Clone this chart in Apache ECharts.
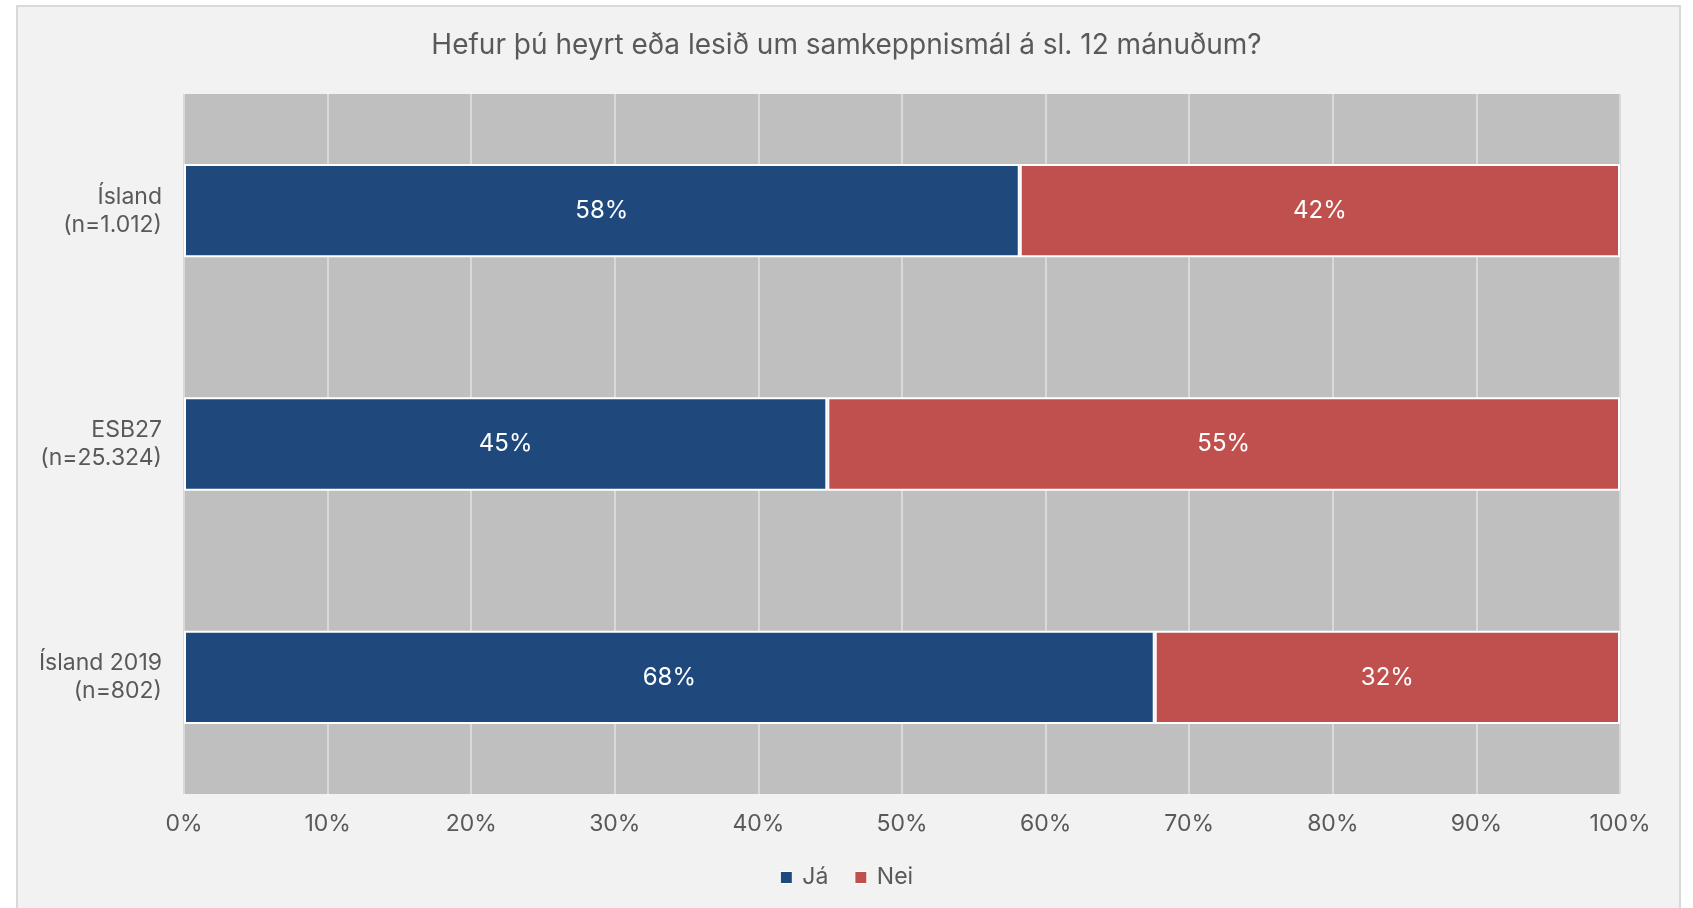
<!DOCTYPE html>
<html>
<head>
<meta charset="utf-8">
<script src="https://cdn.jsdelivr.net/npm/echarts@6/dist/echarts.min.js"></script>
<style>
html, body { margin: 0; padding: 0; background: #fff; }
#main { width: 1693px; height: 908px; }
</style>
</head>
<body>
<div id="main"></div>
<script>
var categories = ['Ísland\n(n=1.012)', 'ESB27\n(n=25.324)', 'Ísland 2019\n(n=802)'];
var jaValues = [58.2, 44.8, 67.6];
var neiValues = [41.8, 55.2, 32.4];
var xTicks = [0, 10, 20, 30, 40, 50, 60, 70, 80, 90, 100];

var textFont = 'Inter, "Noto Sans", sans-serif';
var chart = echarts.init(document.getElementById('main'));

var barLabel = {
    show: true,
    position: 'inside',
    color: '#ffffff',
    fontSize: 24,
    fontFamily: textFont,
    formatter: function (p) { return Math.round(p.value) + '%'; }
};

var option = {
    backgroundColor: '#ffffff',
    textStyle: { fontFamily: textFont },
    graphic: [{
        type: 'rect',
        z: -10,
        shape: { x: 17, y: 6, width: 1663, height: 912 },
        style: { fill: '#f2f2f2', stroke: '#d9d9d9', lineWidth: 2 }
    }],
    title: {
        text: 'Hefur þú heyrt eða lesið um samkeppnismál á sl. 12 mánuðum?',
        left: 'center',
        top: 27,
        textStyle: { color: '#595959', fontSize: 28, fontWeight: 'normal', fontFamily: textFont }
    },
    legend: {
        bottom: 14,
        left: 'center',
        icon: 'rect',
        itemWidth: 12,
        itemHeight: 12,
        itemGap: 26,
        itemStyle: { borderColor: '#ffffff', borderWidth: 1 },
        textStyle: { color: '#595959', fontSize: 23, fontFamily: textFont, padding: [0, 0, 0, 5] },
        data: ['Já', 'Nei']
    },
    grid: {
        left: 184,
        right: 73,
        top: 94,
        bottom: 114,
        show: true,
        backgroundColor: '#bfbfbf',
        borderWidth: 0,
        containLabel: false
    },
    xAxis: {
        type: 'value',
        min: 0,
        max: 100,
        interval: 10,
        axisLine: { show: false },
        axisTick: { show: false },
        axisLabel: {
            color: '#595959',
            fontSize: 23,
            fontFamily: textFont,
            margin: 19,
            formatter: function (v) { return xTicks.indexOf(v) >= 0 ? v + '%' : ''; }
        },
        splitLine: { show: true, lineStyle: { color: '#d9d9d9', width: 2 } }
    },
    yAxis: {
        type: 'category',
        inverse: true,
        data: categories,
        axisLine: { show: false },
        axisTick: { show: false },
        axisLabel: {
            color: '#595959',
            fontSize: 23,
            fontFamily: textFont,
            margin: 22,
            lineHeight: 28,
            align: 'right'
        }
    },
    series: [
        {
            name: 'Já',
            type: 'bar',
            stack: 'total',
            barWidth: '40%',
            data: jaValues,
            itemStyle: { color: '#1f497d', borderColor: '#ffffff', borderWidth: 2 },
            label: barLabel
        },
        {
            name: 'Nei',
            type: 'bar',
            stack: 'total',
            barWidth: '40%',
            data: neiValues,
            itemStyle: { color: '#c0504d', borderColor: '#ffffff', borderWidth: 2 },
            label: barLabel
        }
    ]
};
chart.setOption(option);
</script>
</body>
</html>
